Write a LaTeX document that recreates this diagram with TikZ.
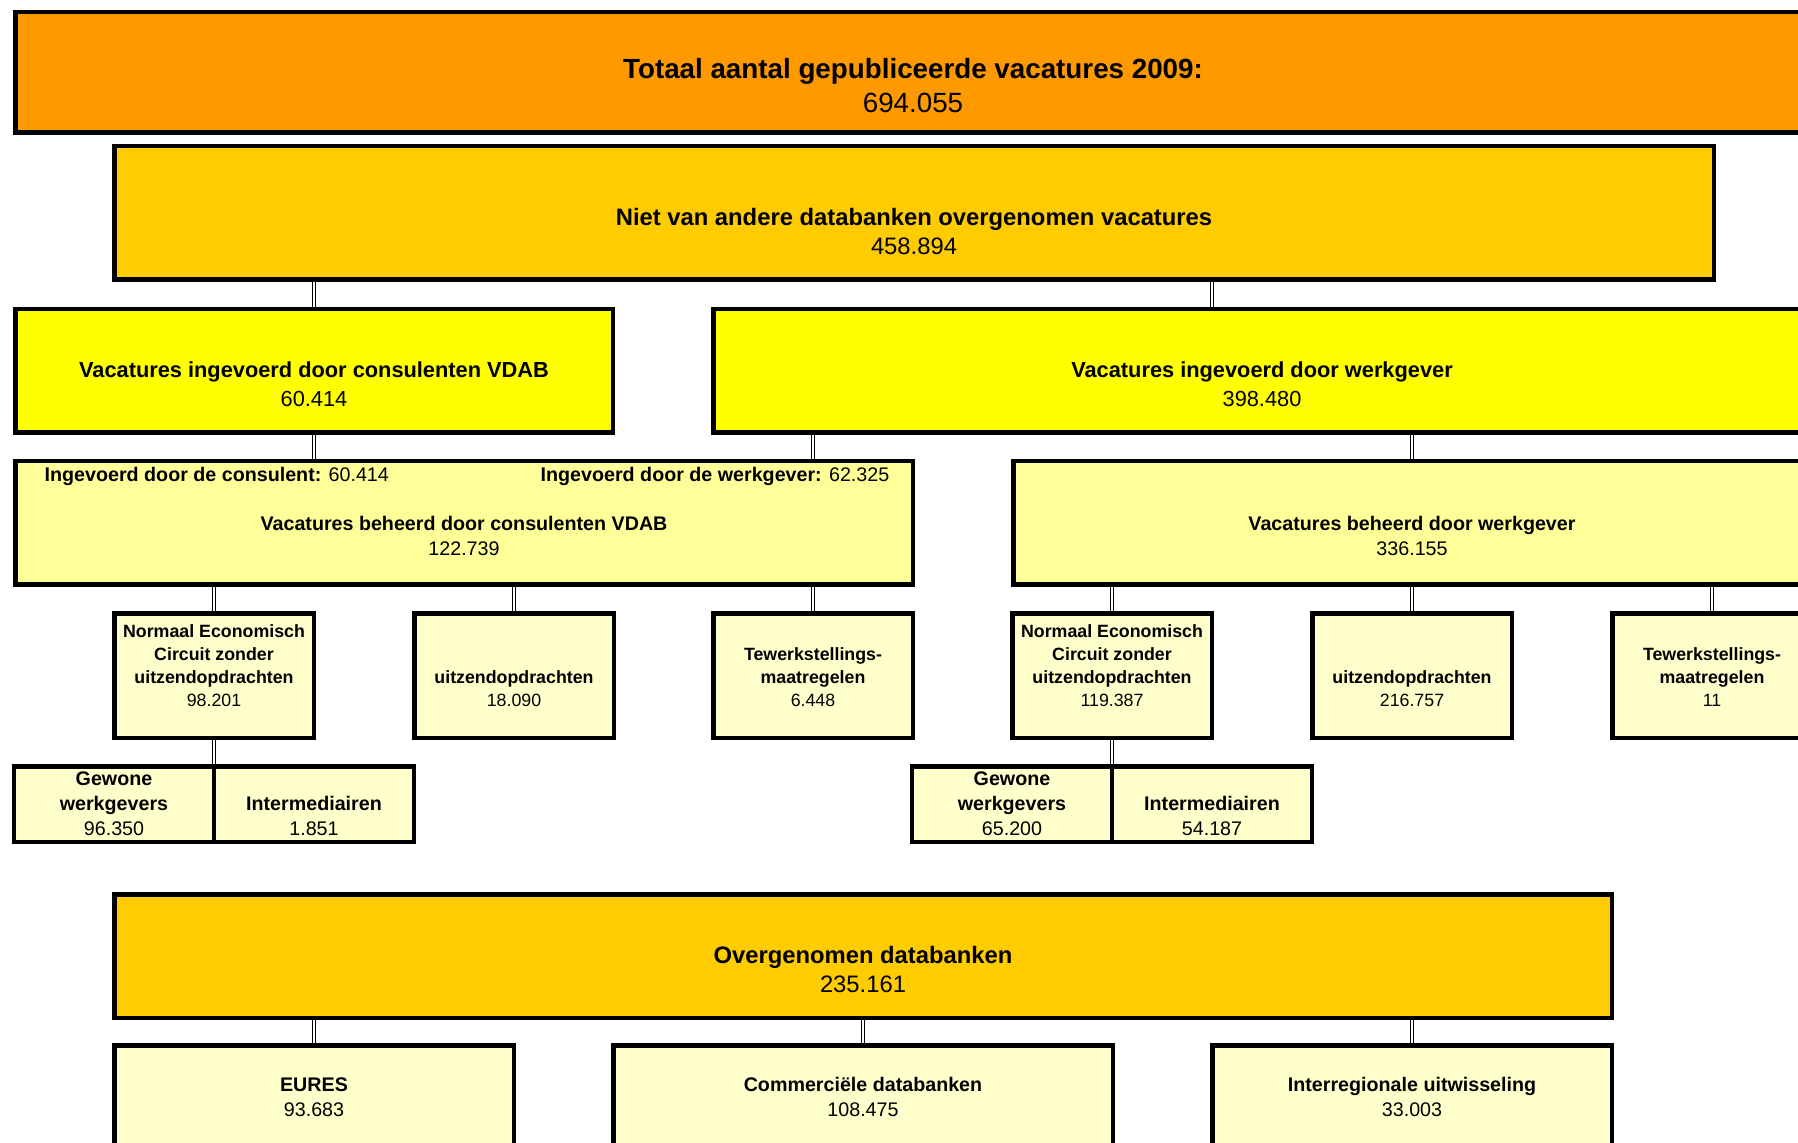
\documentclass[tikz,border=0pt]{standalone}
\usepackage{fontspec}
\setmainfont{Liberation Sans}
\usetikzlibrary{backgrounds}
\definecolor{topOrange}{HTML}{FF9900}
\definecolor{goldBox}{HTML}{FFCC00}
\definecolor{yellowBox}{HTML}{FFFF00}
\definecolor{paleBox}{HTML}{FFFF99}
\definecolor{creamBox}{HTML}{FFFFCC}

\begin{document}
\begin{tikzpicture}[x=0.1mm, y=-0.1mm,
        box/.style={draw, line width=0.45mm, inner sep=0pt},
        small/.style={box, fill=creamBox, minimum width=19.95mm, minimum height=12.45mm},
        pair/.style={box, fill=creamBox, minimum width=20mm, minimum height=7.55mm},
        link/.style={double, double distance=0.22mm, line width=0.1mm},
        txt/.style={anchor=south, inner sep=0pt, align=center},
        ftop/.style={font=\fontsize{7.9}{9.7}\selectfont},
        fbig/.style={font=\fontsize{6.77}{8.1}\selectfont},
        fmid/.style={font=\fontsize{6.2}{8.25}\selectfont},
        fsmall/.style={font=\fontsize{5.6}{7.1}\selectfont},
        ftiny/.style={font=\fontsize{5.06}{6.54}\selectfont}
      ]
      \useasboundingbox (0,0) rectangle (1798,1143);
      \clip (0,0) rectangle (1798,1143);

      \node[box, fill=topOrange, minimum width=179.55mm, minimum height=12.05mm] (total) at (913,72.5) {};
      \node[txt, ftop] (totaltxt) at (913,113.5) {\textbf{Totaal aantal gepubliceerde vacatures 2009:}\\694.055};

      \node[box, fill=goldBox, minimum width=159.95mm, minimum height=13.35mm] (eigen) at (914,213) {};
      \node[txt, fbig] (eigentxt) at (914,255) {\textbf{Niet van andere databanken overgenomen vacatures}\\458.894};

      \node[box, fill=yellowBox, minimum width=59.75mm, minimum height=12.35mm] (cons) at (314,371) {};
      \node[txt, fmid] (constxt) at (314,407.5) {\textbf{Vacatures ingevoerd door consulenten VDAB}\\60.414};
      \node[box, fill=yellowBox, minimum width=109.75mm, minimum height=12.35mm] (werk) at (1262,371) {};
      \node[txt, fmid] (werktxt) at (1262,407.5) {\textbf{Vacatures ingevoerd door werkgever}\\398.480};

      \node[box, fill=paleBox, minimum width=89.75mm, minimum height=12.35mm] (behcons) at (464,523) {};
      \node[anchor=base west, inner sep=0pt, fsmall] (ingcons) at (44,482) {\textbf{Ingevoerd door de consulent:} 60.414};
      \node[anchor=base west, inner sep=0pt, fsmall] (ingwerk) at (540,482) {\textbf{Ingevoerd door de werkgever:} 62.325};
      \node[txt, fsmall] (behconstxt) at (464,556.5) {\textbf{Vacatures beheerd door consulenten VDAB}\\122.739};
      \node[box, fill=paleBox, minimum width=79.75mm, minimum height=12.35mm] (behwerk) at (1412,523) {};
      \node[txt, fsmall] (behwerktxt) at (1412,556.5) {\textbf{Vacatures beheerd door werkgever}\\336.155};

      \node[small] (nec1) at (214,675.5) {};
      \node[txt, ftiny] at (214,707.5) {\textbf{Normaal Economisch}\\\textbf{Circuit zonder}\\\textbf{uitzendopdrachten}\\98.201};
      \node[small] (uitz1) at (514,675.5) {};
      \node[txt, ftiny] at (514,707.5) {\textbf{uitzendopdrachten}\\18.090};
      \node[small] (tew1) at (813,675.5) {};
      \node[txt, ftiny] at (813,707.5) {\textbf{Tewerkstellings-}\\\textbf{maatregelen}\\6.448};
      \node[small] (nec2) at (1112,675.5) {};
      \node[txt, ftiny] at (1112,707.5) {\textbf{Normaal Economisch}\\\textbf{Circuit zonder}\\\textbf{uitzendopdrachten}\\119.387};
      \node[small] (uitz2) at (1412,675.5) {};
      \node[txt, ftiny] at (1412,707.5) {\textbf{uitzendopdrachten}\\216.757};
      \node[small] (tew2) at (1712,675.5) {};
      \node[txt, ftiny] at (1712,707.5) {\textbf{Tewerkstellings-}\\\textbf{maatregelen}\\11};

      \node[pair] (gew1) at (114,804) {};
      \node[txt, fsmall] at (114,836.5) {\textbf{Gewone}\\\textbf{werkgevers}\\96.350};
      \node[pair] (int1) at (314,804) {};
      \node[txt, fsmall] at (314,836.5) {\textbf{Intermediairen}\\1.851};
      \node[pair] (gew2) at (1012,804) {};
      \node[txt, fsmall] at (1012,836.5) {\textbf{Gewone}\\\textbf{werkgevers}\\65.200};
      \node[pair] (int2) at (1212,804) {};
      \node[txt, fsmall] at (1212,836.5) {\textbf{Intermediairen}\\54.187};

      \node[box, fill=goldBox, minimum width=149.75mm, minimum height=12.35mm] (overg) at (863,956) {};
      \node[txt, fbig] (overgtxt) at (863,993) {\textbf{Overgenomen databanken}\\235.161};

      \node[box, fill=creamBox, minimum width=39.95mm, minimum height=12.35mm] (eures) at (314,1107) {};
      \node[txt, fsmall] at (314,1117.5) {\textbf{EURES}\\93.683};
      \node[box, fill=creamBox, minimum width=49.95mm, minimum height=12.35mm] (comm) at (863,1107) {};
      \node[txt, fsmall] at (863,1117.5) {\textbf{Commerciële databanken}\\108.475};
      \node[box, fill=creamBox, minimum width=39.95mm, minimum height=12.35mm] (inter) at (1412,1107) {};
      \node[txt, fsmall] at (1412,1117.5) {\textbf{Interregionale uitwisseling}\\33.003};

      \begin{pgfonlayer}{background}
        \draw[link] (eigen.south -| cons) -- (cons.north);
        \draw[link] ([xshift=-5mm]werk.north |- eigen.south) -- ([xshift=-5mm]werk.north);
        \draw[link] (cons.south) -- (behcons.north -| cons);
        \draw[link] (werk.south -| tew1) -- (behcons.north -| tew1);
        \draw[link] (werk.south -| behwerk) -- (behwerk.north);
        \draw[link] (behcons.south -| nec1) -- (nec1.north);
        \draw[link] (behcons.south -| uitz1) -- (uitz1.north);
        \draw[link] (behcons.south -| tew1) -- (tew1.north);
        \draw[link] (behwerk.south -| nec2) -- (nec2.north);
        \draw[link] (behwerk.south -| uitz2) -- (uitz2.north);
        \draw[link] (behwerk.south -| tew2) -- (tew2.north);
        \draw[link] (nec1.south) -- (gew1.north -| nec1);
        \draw[link] (nec2.south) -- (gew2.north -| nec2);
        \draw[link] (overg.south -| eures) -- (eures.north);
        \draw[link] (overg.south -| comm) -- (comm.north);
        \draw[link] (overg.south -| inter) -- (inter.north);
      \end{pgfonlayer}
    \end{tikzpicture}
\end{document}
